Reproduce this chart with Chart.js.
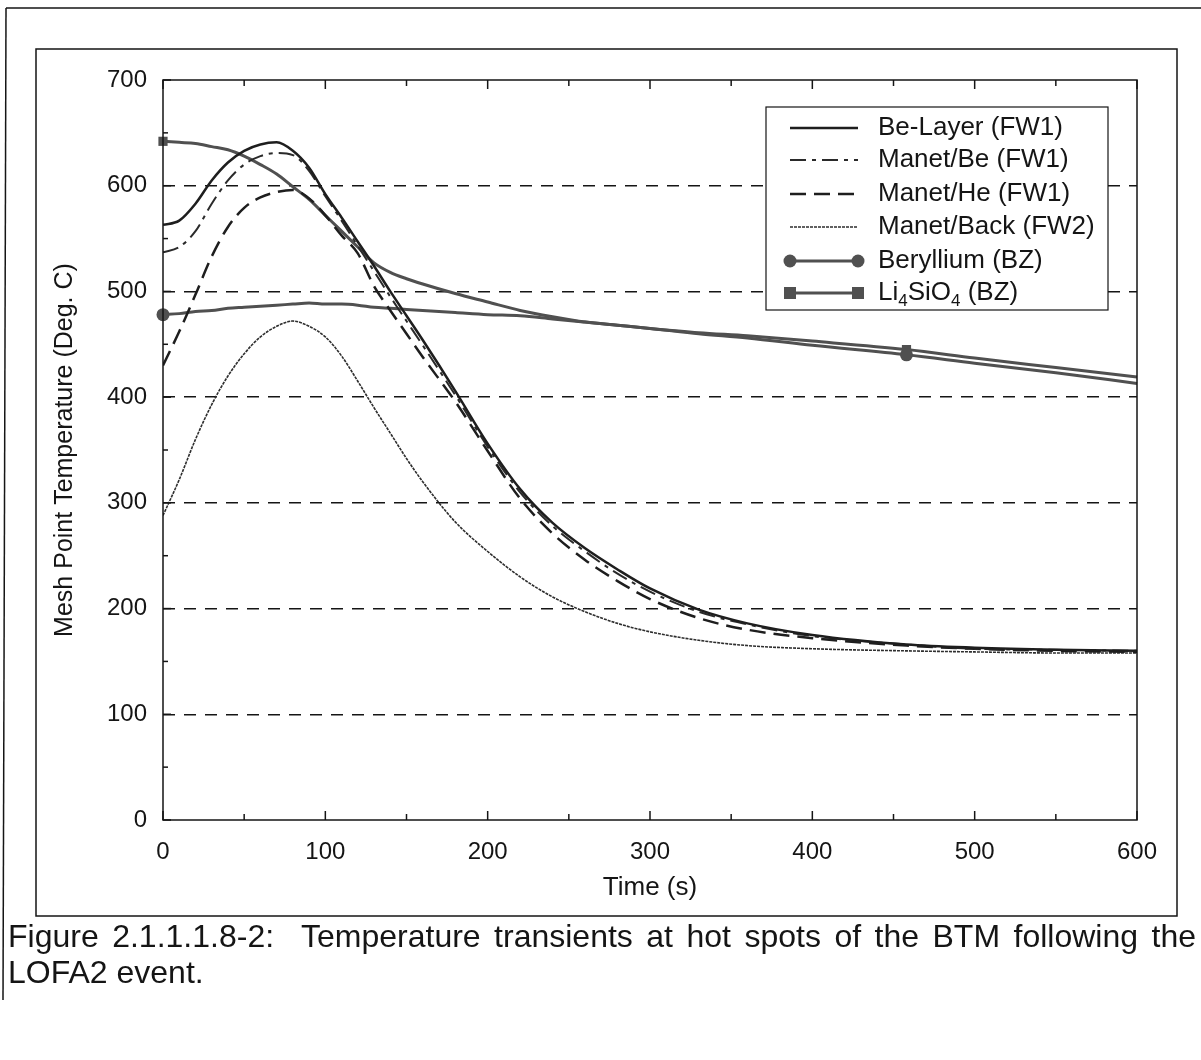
<!DOCTYPE html>
<html>
<head>
<meta charset="utf-8">
<script src="https://cdn.jsdelivr.net/npm/chart.js@4.4.1/dist/chart.umd.min.js"></script>
<style>
  body { margin: 0; background: #fff; }
  canvas { display: block; }
</style>
</head>
<body>
<canvas id="c" width="1201" height="1060"></canvas>
<script>
// time axis (s) shared by every series
const timeS = [0, 10, 20, 30, 40, 50, 60, 70, 80, 90, 100, 110, 120, 130, 140, 150, 160,
  180, 200, 220, 240, 260, 280, 300, 330, 360, 400, 458, 500, 550, 600]

const beLayer = [563, 567, 583, 605, 622, 633, 639, 641, 633, 617, 592, 570, 547, 524, 500, 477, 454,
  406, 356, 313, 281, 257, 237, 219, 199, 186, 175, 166, 163, 161, 160]
const manetBe = [537, 542, 557, 583, 605, 620, 628, 631, 629, 614, 590, 567, 543, 519, 495, 472, 449,
  402, 353, 310, 278, 254, 233, 216, 197, 185, 174, 166, 162, 161, 160]
const manetHe = [430, 462, 497, 533, 561, 579, 589, 594, 596, 588, 572, 553, 536, 505, 482, 460, 438,
  396, 349, 304, 271, 246, 226, 209, 191, 180, 172, 165, 162, 160, 159]
const manetBack = [288, 322, 360, 393, 420, 441, 457, 467, 472, 467, 457, 439, 415, 390, 366, 342, 320,
  282, 254, 230, 211, 197, 186, 178, 170, 165, 162, 160, 159, 158, 158]
const beryllium = [478, 479, 481, 482, 484, 485, 486, 487, 488, 489, 488, 488, 487, 485, 484, 483, 482,
  480, 478, 477, 474, 471, 468, 465, 460, 456, 449, 440, 432, 423, 413]
const li4sio4 = [642, 641, 640, 637, 634, 628, 620, 611, 599, 587, 572, 557, 542, 527, 518, 512, 507,
  498, 490, 482, 476, 471, 468, 465, 461, 458, 453, 445, 437, 428, 419]

// times where the BZ curves carry a marker
const markerTimes = [0, 458]

const xTicks = [0, 100, 200, 300, 400, 500, 600]
const yTicks = [0, 100, 200, 300, 400, 500, 600, 700]

const FONT = "'Liberation Sans', Arial, sans-serif"
const INK = '#151515'

function pts(values) {
  return timeS.map((t, i) => ({ x: t, y: values[i] }))
}

function markerRadius(r) {
  return function (context) {
    return markerTimes.includes(timeS[context.dataIndex]) ? r : 0
  }
}

function line(ctx, x1, y1, x2, y2) {
  ctx.beginPath()
  ctx.moveTo(x1, y1)
  ctx.lineTo(x2, y2)
  ctx.stroke()
}

function drawJustified(ctx, words, gaps, x0, x1, y) {
  let textW = 0
  words.forEach(w => textW += ctx.measureText(w).width)
  const totalGap = gaps.reduce((s, g) => s + g, 0)
  const unit = (x1 - x0 - textW) / totalGap
  let cx = x0
  words.forEach((w, i) => {
    ctx.fillText(w, cx, y)
    cx += ctx.measureText(w).width + (i < gaps.length ? gaps[i] * unit : 0)
  })
}

const decorPlugin = {
  id: 'decor',
  afterDraw(chart) {
    const { ctx, chartArea: a, scales } = chart
    const x = scales.x, y = scales.y
    ctx.save()
    ctx.strokeStyle = INK
    ctx.lineWidth = 1.5
    ctx.setLineDash([])

    // plot frame
    ctx.strokeRect(a.left, a.top, a.right - a.left, a.bottom - a.top)

    // inward ticks
    for (let t = 0; t <= 600; t += 50) {
      const px = x.getPixelForValue(t)
      const len = t % 100 === 0 ? 9 : 6
      line(ctx, px, a.bottom, px, a.bottom - len)
      line(ctx, px, a.top, px, a.top + len)
    }
    for (let v = 0; v <= 700; v += 50) {
      const py = y.getPixelForValue(v)
      const len = v % 100 === 0 ? 8 : 5
      line(ctx, a.left, py, a.left + len, py)
    }

    // page frames
    ctx.lineWidth = 1.5
    line(ctx, 6, 8, 1201, 8)
    line(ctx, 6, 8, 3, 1000)
    ctx.strokeRect(36, 49, 1141, 867)

    // legend
    const lx = 766, ly = 107, lw = 342, lh = 203
    ctx.fillStyle = '#fff'
    ctx.fillRect(lx, ly, lw, lh)
    ctx.lineWidth = 1.2
    ctx.strokeRect(lx, ly, lw, lh)
    const rows = [128, 160, 194, 227, 261, 293]
    const sx0 = 790, sx1 = 858, tx = 878
    ctx.font = '26px ' + FONT
    ctx.textBaseline = 'middle'
    ctx.textAlign = 'left'
    chart.data.datasets.forEach((ds, i) => {
      const ry = rows[i]
      ctx.strokeStyle = ds.borderColor
      ctx.lineWidth = ds.borderWidth
      ctx.setLineDash(ds.borderDash || [])
      line(ctx, sx0, ry, sx1, ry)
      ctx.setLineDash([])
      if (ds.pointStyle === 'circle') {
        ctx.fillStyle = ds.borderColor
        ;[sx0, sx1].forEach(cx => { ctx.beginPath(); ctx.arc(cx, ry, 6.5, 0, Math.PI * 2); ctx.fill() })
      } else if (ds.pointStyle === 'rect') {
        ctx.fillStyle = ds.borderColor
        ;[sx0, sx1].forEach(cx => ctx.fillRect(cx - 6, ry - 6, 12, 12))
      }
      ctx.fillStyle = INK
      if (ds.label === 'Li4SiO4 (BZ)') {
        // chemical formula with subscripts
        let cx = tx
        const parts = [['Li', 0], ['4', 1], ['SiO', 0], ['4', 1], [' (BZ)', 0]]
        parts.forEach(([s, sub]) => {
          ctx.font = (sub ? '17px ' : '26px ') + FONT
          ctx.fillText(s, cx, ry + (sub ? 8 : 0))
          cx += ctx.measureText(s).width
        })
        ctx.font = '26px ' + FONT
      } else {
        ctx.fillText(ds.label, tx, ry)
      }
    })

    // caption
    ctx.fillStyle = INK
    ctx.font = '32px ' + FONT
    ctx.textBaseline = 'alphabetic'
    const words = ['Figure', '2.1.1.1.8-2:', 'Temperature', 'transients', 'at', 'hot', 'spots',
      'of', 'the', 'BTM', 'following', 'the']
    const gaps = [1, 2, 1, 1, 1, 1, 1, 1, 1, 1, 1]
    drawJustified(ctx, words, gaps, 8, 1196, 947)
    ctx.fillText('LOFA2 event.', 8, 983)
    ctx.restore()
  }
}

const ctx = document.getElementById('c').getContext('2d')

const chart = new Chart(ctx, {
  type: 'line',
  data: {
    datasets: [
      {
        label: 'Be-Layer (FW1)',
        data: pts(beLayer),
        borderColor: '#1e1e1e',
        borderWidth: 2.5,
        pointRadius: 0
      },
      {
        label: 'Manet/Be (FW1)',
        data: pts(manetBe),
        borderColor: '#2a2a2a',
        borderWidth: 2,
        borderDash: [16, 6, 4, 6],
        pointRadius: 0
      },
      {
        label: 'Manet/He (FW1)',
        data: pts(manetHe),
        borderColor: '#1e1e1e',
        borderWidth: 2.5,
        borderDash: [16, 8],
        pointRadius: 0
      },
      {
        label: 'Manet/Back (FW2)',
        data: pts(manetBack),
        borderColor: '#2e2e2e',
        borderWidth: 1.6,
        borderDash: [3, 1],
        pointRadius: 0
      },
      {
        label: 'Beryllium (BZ)',
        data: pts(beryllium),
        borderColor: '#505050',
        borderWidth: 3,
        pointStyle: 'circle',
        pointRadius: markerRadius(6.5),
        pointBackgroundColor: '#505050',
        pointBorderWidth: 0,
        clip: false
      },
      {
        label: 'Li4SiO4 (BZ)',
        data: pts(li4sio4),
        borderColor: '#505050',
        borderWidth: 3,
        pointStyle: 'rect',
        pointRadius: markerRadius(6.5),
        pointBackgroundColor: '#505050',
        pointBorderWidth: 0,
        clip: false
      }
    ]
  },
  options: {
    responsive: false,
    animation: false,
    cubicInterpolationMode: 'monotone',
    layout: {
      padding: { top: 80, right: 64, bottom: 0, left: 0 }
    },
    scales: {
      x: {
        type: 'linear',
        min: 0,
        max: 600,
        afterBuildTicks: function (scale) {
          scale.ticks = xTicks.map(v => ({ value: v }))
        },
        afterFit: function (scale) { scale.height = 240 },
        grid: { display: false, drawTicks: false },
        border: { display: false },
        ticks: {
          autoSkip: false,
          maxRotation: 0,
          padding: 18,
          color: INK,
          font: { family: FONT, size: 24 }
        },
        title: {
          display: true,
          text: 'Time (s)',
          color: INK,
          font: { family: FONT, size: 26 },
          padding: { top: 0, bottom: 157 }
        }
      },
      y: {
        min: 0,
        max: 700,
        afterBuildTicks: function (scale) {
          scale.ticks = yTicks.map(v => ({ value: v }))
        },
        afterFit: function (scale) { scale.width = 163 },
        grid: {
          drawTicks: false,
          lineWidth: 1.5,
          // dashed lines at 100..600 only
          color: function (context) {
            const v = context.tick && context.tick.value
            return (v === 0 || v === 700) ? 'rgba(0,0,0,0)' : INK
          }
        },
        border: { display: false, dash: [12, 9] },
        ticks: {
          autoSkip: false,
          padding: 16,
          color: INK,
          font: { family: FONT, size: 24 }
        },
        title: {
          display: true,
          text: 'Mesh Point Temperature (Deg. C)',
          color: INK,
          font: { family: FONT, size: 25 },
          padding: { top: 50, bottom: 0 }
        }
      }
    },
    plugins: {
      legend: { display: false },
      tooltip: { enabled: false }
    }
  },
  plugins: [decorPlugin]
})
</script>
</body>
</html>
